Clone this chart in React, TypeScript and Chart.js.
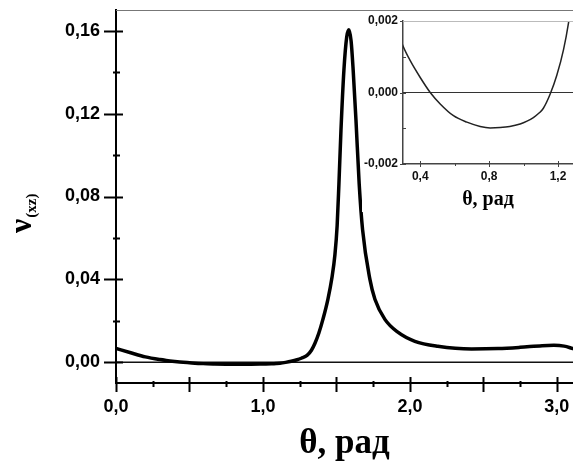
import React, { useEffect, useRef } from 'react';
import { Chart, registerables } from 'chart.js';

Chart.register(...registerables);

// θ (rad) and ν(xz) values
const thetaValues = [
  0.0, 0.1, 0.2, 0.3, 0.342, 0.4, 0.458, 0.516, 0.593, 0.671, 0.748, 0.806, 0.864, 0.92,
  0.98, 1.02, 1.057, 1.09, 1.115, 1.154, 1.193, 1.232, 1.261, 1.3, 1.33, 1.354, 1.38,
  1.408, 1.442, 1.47, 1.49, 1.505, 1.517, 1.531, 1.551, 1.57, 1.585, 1.6, 1.614, 1.633,
  1.655, 1.678, 1.728, 1.762, 1.83, 1.918, 2.034, 2.19, 2.42, 2.6, 2.75, 2.9, 2.98, 3.05,
  3.11,
];
const nuValues = [
  0.0067, 0.0046, 0.0026, 0.0013, 0.00089, 0.00042, 0.0, -0.00032, -0.00065, -0.00083,
  -0.00095, -0.00099, -0.00098, -0.00095, -0.00088, -0.0008, -0.0007, -0.000575, -0.00044,
  -0.00005, 0.00048, 0.0012, 0.00195, 0.0033, 0.0058, 0.0092, 0.014, 0.0207, 0.0304,
  0.041, 0.052, 0.066, 0.086, 0.112, 0.141, 0.157, 0.1605, 0.155, 0.141, 0.117, 0.086,
  0.064, 0.04, 0.0304, 0.0207, 0.0145, 0.0101, 0.0077, 0.0064, 0.0066, 0.0072, 0.008,
  0.0082, 0.0078, 0.0066,
];

// main axes
const mainXLabels = [0, 1, 2, 3];
const mainXMajor = [0, 0.5, 1, 1.5, 2, 2.5, 3];
const mainXMinor = [0.25, 0.75, 1.25, 1.75, 2.25, 2.75];
const mainYLabels = [0, 0.04, 0.08, 0.12, 0.16];
const mainYMinor = [0.02, 0.06, 0.1, 0.14];
const mainXRange = [0, 3.11];
const mainYRange = [-0.01, 0.17];

// inset axes
const insetXLabels = [0.4, 0.8, 1.2];
const insetXMinor = [0.6, 1.0];
const insetYLabels = [-0.002, 0, 0.002];
const insetYMinor = [-0.001, 0.001];
const insetXRange = [0.3, 1.287];
const insetYRange = [-0.002, 0.002];

const points = thetaValues.map((x, i) => ({ x, y: nuValues[i] }));
const comma = (v: number, d: number) => v.toFixed(d).replace('.', ',');

function noPad(s: any) {
  s.paddingLeft = 0;
  s.paddingRight = 0;
  s.paddingTop = 0;
  s.paddingBottom = 0;
}

function tickPlugin(id: string, cfg: any) {
  return {
    id,
    afterDraw(chart: any) {
      const { ctx, chartArea } = chart;
      const xs = chart.scales.x;
      const ys = chart.scales.y;
      ctx.save();
      ctx.strokeStyle = cfg.color;
      ctx.lineWidth = cfg.width;
      ctx.beginPath();
      cfg.xMajor.forEach((v: number) => {
        const p = Math.round(xs.getPixelForValue(v)) + 0.5;
        ctx.moveTo(p, chartArea.bottom - cfg.xMaj[0]);
        ctx.lineTo(p, chartArea.bottom + cfg.xMaj[1]);
      });
      cfg.xMinor.forEach((v: number) => {
        const p = Math.round(xs.getPixelForValue(v)) + 0.5;
        ctx.moveTo(p, chartArea.bottom - cfg.xMin[0]);
        ctx.lineTo(p, chartArea.bottom + cfg.xMin[1]);
      });
      cfg.yMajor.forEach((v: number) => {
        const p = Math.round(ys.getPixelForValue(v)) + 0.5;
        ctx.moveTo(chartArea.left - cfg.yMaj[0], p);
        ctx.lineTo(chartArea.left + cfg.yMaj[1], p);
      });
      cfg.yMinor.forEach((v: number) => {
        const p = Math.round(ys.getPixelForValue(v)) + 0.5;
        ctx.moveTo(chartArea.left - cfg.yMin[0], p);
        ctx.lineTo(chartArea.left + cfg.yMin[1], p);
      });
      ctx.stroke();
      if (cfg.extra) cfg.extra(chart, ctx);
      ctx.restore();
    },
  };
}

export default function App() {
  const mainRef = useRef<HTMLCanvasElement>(null);
  const insetRef = useRef<HTMLCanvasElement>(null);

  useEffect(() => {
    const main = new Chart(mainRef.current!, {
      type: 'line',
      data: {
        datasets: [
          {
            data: points,
            borderColor: '#000',
            borderWidth: 3.5,
            pointRadius: 0,
            cubicInterpolationMode: 'monotone',
            borderCapStyle: 'round',
            borderJoinStyle: 'round',
          },
          {
            data: [
              { x: mainXRange[0], y: 0 },
              { x: mainXRange[1], y: 0 },
            ],
            borderColor: '#111',
            borderWidth: 1.5,
            pointRadius: 0,
          },
        ],
      },
      options: {
        animation: false,
        responsive: false,
        devicePixelRatio: 1,
        layout: { padding: { top: 10, right: 0, left: 0, bottom: 0 } },
        plugins: { legend: { display: false }, tooltip: { enabled: false } },
        scales: {
          x: {
            type: 'linear',
            min: mainXRange[0],
            max: mainXRange[1],
            grid: { display: false, drawTicks: false },
            border: { display: true, color: '#000', width: 2 },
            afterBuildTicks: (s: any) => {
              s.ticks = mainXLabels.map((v) => ({ value: v }));
            },
            afterFit: (s: any) => {
              s.height = 79;
              noPad(s);
            },
            ticks: {
              padding: 13,
              color: '#000',
              maxRotation: 0,
              autoSkip: false,
              font: { family: '"Liberation Sans", Arial, sans-serif', size: 18, weight: 'bold' },
              callback: (v: any) => comma(Number(v), 1),
            },
          },
          y: {
            type: 'linear',
            min: mainYRange[0],
            max: mainYRange[1],
            grid: { display: false, drawTicks: false },
            border: { display: true, color: '#000', width: 2 },
            afterBuildTicks: (s: any) => {
              s.ticks = mainYLabels.map((v) => ({ value: v }));
            },
            afterFit: (s: any) => {
              s.width = 116;
              noPad(s);
            },
            ticks: {
              padding: 16,
              color: '#000',
              autoSkip: false,
              font: { family: '"Liberation Sans", Arial, sans-serif', size: 18, weight: 'bold' },
              callback: (v: any) => comma(Number(v), 2),
            },
          },
        },
      },
      plugins: [
        tickPlugin('mainTicks', {
          color: '#000',
          width: 2,
          xMajor: mainXMajor,
          xMinor: mainXMinor,
          yMajor: mainYLabels,
          yMinor: mainYMinor,
          xMaj: [6, 9],
          xMin: [2, 4],
          yMaj: [12, 7],
          yMin: [3, 4],
          extra: (chart: any, ctx: CanvasRenderingContext2D) => {
            const a = chart.chartArea;
            // top frame line
            ctx.strokeStyle = '#777';
            ctx.lineWidth = 1;
            ctx.beginPath();
            ctx.moveTo(a.left, a.top + 0.5);
            ctx.lineTo(a.right, a.top + 0.5);
            ctx.stroke();
            // x title
            ctx.fillStyle = '#000';
            ctx.font = 'bold 35px "Liberation Serif", "Times New Roman", serif';
            ctx.textAlign = 'center';
            ctx.textBaseline = 'alphabetic';
            ctx.fillText('θ, рад', (a.left + a.right) / 2, 453);
            // y title
            ctx.save();
            ctx.translate(31, 233);
            ctx.rotate(-Math.PI / 2);
            ctx.textAlign = 'left';
            ctx.font = 'bold 32px "Liberation Serif", "Times New Roman", serif';
            ctx.fillText('ν', 0, 0);
            const w = ctx.measureText('ν').width;
            ctx.font = 'bold 15px "Liberation Serif", "Times New Roman", serif';
            ctx.fillText('(xz)', w + 1, 5);
            ctx.restore();
          },
        }),
      ],
    } as any);

    const inset = new Chart(insetRef.current!, {
      type: 'line',
      data: {
        datasets: [
          {
            data: points,
            borderColor: '#222',
            borderWidth: 1.5,
            pointRadius: 0,
            cubicInterpolationMode: 'monotone',
          },
          {
            data: [
              { x: insetXRange[0], y: 0 },
              { x: insetXRange[1], y: 0 },
            ],
            borderColor: '#333',
            borderWidth: 1,
            pointRadius: 0,
          },
        ],
      },
      options: {
        animation: false,
        responsive: false,
        devicePixelRatio: 1,
        layout: { padding: { top: 9, right: 0, left: 0, bottom: 0 } },
        plugins: { legend: { display: false }, tooltip: { enabled: false } },
        scales: {
          x: {
            type: 'linear',
            min: insetXRange[0],
            max: insetXRange[1],
            grid: { display: false, drawTicks: false },
            border: { display: true, color: '#444', width: 1.5 },
            afterBuildTicks: (s: any) => {
              s.ticks = insetXLabels.map((v) => ({ value: v }));
            },
            afterFit: (s: any) => {
              s.height = 48;
              noPad(s);
            },
            ticks: {
              padding: 5,
              color: '#111',
              maxRotation: 0,
              autoSkip: false,
              font: { family: '"Liberation Sans", Arial, sans-serif', size: 12, weight: 'bold' },
              callback: (v: any) => comma(Number(v), 1),
            },
          },
          y: {
            type: 'linear',
            min: insetYRange[0],
            max: insetYRange[1],
            grid: { display: false, drawTicks: false },
            border: { display: true, color: '#444', width: 1.5 },
            afterBuildTicks: (s: any) => {
              s.ticks = insetYLabels.map((v) => ({ value: v }));
            },
            afterFit: (s: any) => {
              s.width = 41;
              noPad(s);
            },
            ticks: {
              padding: 5,
              color: '#111',
              autoSkip: false,
              font: { family: '"Liberation Sans", Arial, sans-serif', size: 12, weight: 'bold' },
              callback: (v: any) => comma(Number(v), 3),
            },
          },
        },
      },
      plugins: [
        tickPlugin('insetTicks', {
          color: '#444',
          width: 1,
          xMajor: insetXLabels,
          xMinor: insetXMinor,
          yMajor: insetYLabels,
          yMinor: insetYMinor,
          xMaj: [3, 3],
          xMin: [1, 2],
          yMaj: [3, 3],
          yMin: [0, 3],
          extra: (chart: any, ctx: CanvasRenderingContext2D) => {
            const a = chart.chartArea;
            ctx.strokeStyle = '#bbb';
            ctx.lineWidth = 1;
            ctx.beginPath();
            ctx.moveTo(a.left, a.top + 0.5);
            ctx.lineTo(a.right, a.top + 0.5);
            ctx.stroke();
            ctx.fillStyle = '#000';
            ctx.font = 'bold 20px "Liberation Serif", "Times New Roman", serif';
            ctx.textAlign = 'center';
            ctx.textBaseline = 'alphabetic';
            ctx.fillText('θ, рад', (a.left + a.right) / 2, 193);
          },
        }),
      ],
    } as any);

    return () => {
      main.destroy();
      inset.destroy();
    };
  }, []);

  return (
    <div style={{ position: 'fixed', left: 0, top: 0, width: 573, height: 462, background: '#fff' }}>
      <canvas ref={mainRef} width={573} height={462} style={{ position: 'absolute', left: 0, top: 0 }} />
      <canvas
        ref={insetRef}
        width={211}
        height={200}
        style={{ position: 'absolute', left: 362, top: 12, background: '#fff' }}
      />
    </div>
  );
}
